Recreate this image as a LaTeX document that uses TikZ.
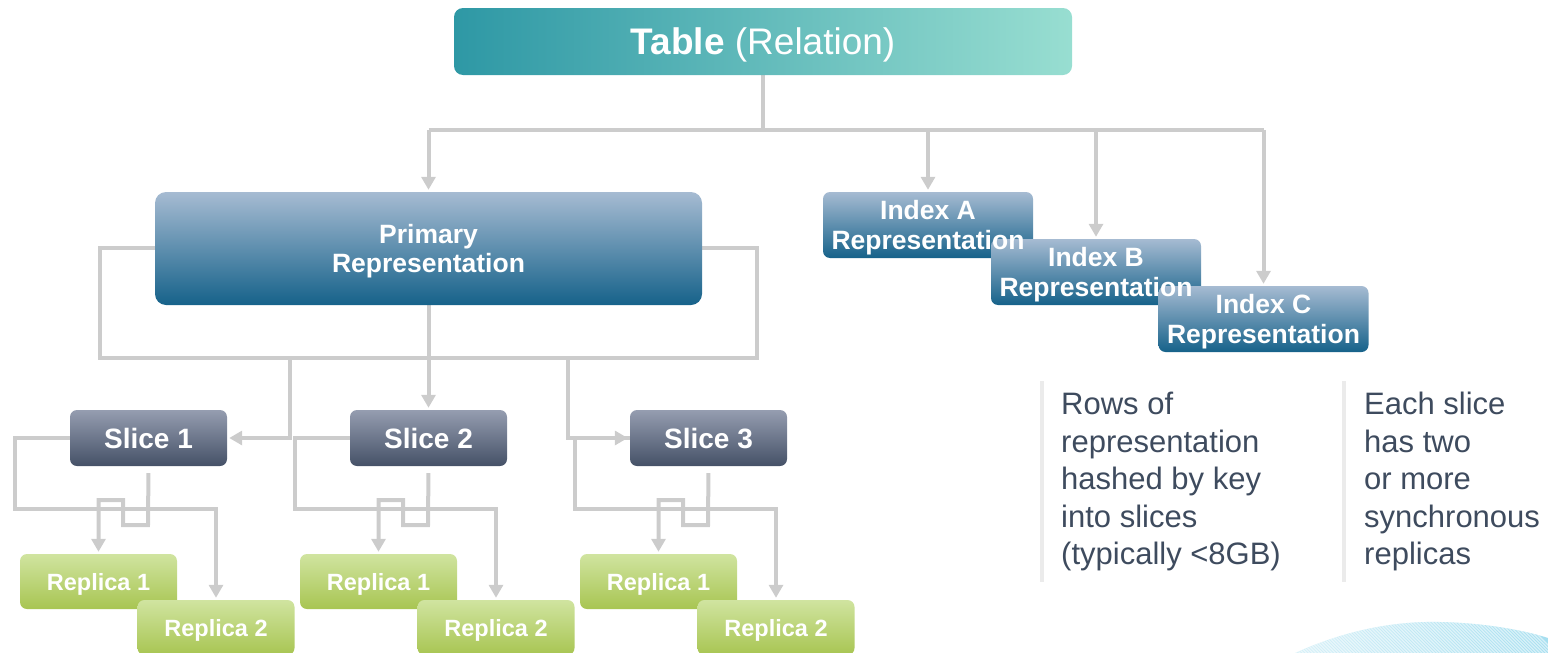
\documentclass[tikz,border=0pt]{standalone}
\usepackage{fontspec}
\setmainfont{Liberation Sans}
\usetikzlibrary{arrows.meta,backgrounds}

\pgfdeclarelayer{foreground}
\pgfsetlayers{background,main,foreground}

\definecolor{linegray}{HTML}{CCCCCC}
\definecolor{tabL}{HTML}{2E98A5}
\definecolor{tabR}{HTML}{98DED1}
\definecolor{repTop}{HTML}{A6BBD2}
\definecolor{repBot}{HTML}{16628A}
\definecolor{slTop}{HTML}{959DB0}
\definecolor{slBot}{HTML}{455167}
\definecolor{rpTop}{HTML}{D0E4A0}
\definecolor{rpBot}{HTML}{A8C552}
\definecolor{notetext}{HTML}{3E4B5E}
\definecolor{sepgray}{HTML}{EBEBEB}
\definecolor{globe}{HTML}{A6DFF0}

\tikzset{
  boxbase/.style={inner sep=0pt, text=white, align=center, text depth=0pt},
  tablebox/.style={boxbase, rounded corners=9pt, minimum width=618pt, minimum height=67pt,
    left color=tabL, right color=tabR, font=\fontsize{37}{40}\selectfont},
  reprbox/.style={boxbase, rounded corners=11pt, top color=repTop, bottom color=repBot,
    font=\bfseries\fontsize{26.5}{29.5}\selectfont},
  indexbox/.style={reprbox, rounded corners=7pt, minimum width=210pt, minimum height=66pt},
  indexlabel/.style={boxbase, font=\bfseries\fontsize{26.5}{29.5}\selectfont},
  slicebox/.style={boxbase, rounded corners=7pt, minimum width=157pt, minimum height=56pt,
    top color=slTop, bottom color=slBot, font=\bfseries\fontsize{28}{32}\selectfont},
  replicabox/.style={boxbase, rounded corners=7pt, minimum width=157pt, minimum height=55pt,
    top color=rpTop, bottom color=rpBot, font=\bfseries\fontsize{23.5}{26}\selectfont},
  wire/.style={draw=linegray, line width=4pt},
  arrowwire/.style={wire, -{Triangle[width=14pt,length=13pt]}, shorten >=2pt},
  note/.style={inner sep=0pt, anchor=north west, align=left, text=notetext,
    font=\fontsize{31}{37.5}\selectfont},
  sepline/.style={draw=sepgray, line width=4pt}
}

\begin{document}
\begin{tikzpicture}[x=1pt,y=-1pt]
\useasboundingbox (0,0) rectangle (1548,653);

% decorative globe edge in the lower right corner, with fine white hatching
\begin{scope}
  \path[clip] (1295,653) .. controls (1350,628) and (1400,621) .. (1440,622)
    .. controls (1490,623) and (1530,632) .. (1548,638) -- (1548,653) -- cycle;
  \shade[left color=globe!45, right color=globe] (1290,615) rectangle (1548,653);
  \foreach \k in {0,...,90}{
    \draw[white, opacity=0.55, line width=1.2pt] (1230+3.2*\k,615) -- ++(40,40);
  }
\end{scope}

% top level
\node[tablebox] (tab) at (763,41.5) {\textbf{Table} (Relation)};

% representations
\node[reprbox, minimum width=547pt, minimum height=113pt] (prim) at (428.5,248.5)
  {Primary\\Representation};
\node[indexbox] (ia) at (928,225) {};
\node[indexbox] (ib) at (1096,272) {};
\node[indexbox] (ic) at (1263.5,319) {};
\begin{pgfonlayer}{foreground}
  % index labels sit above the overlapping boxes
  \node[indexlabel] (ialabel) at (ia) {Index A\\Representation};
  \node[indexlabel] (iblabel) at (ib) {Index B\\Representation};
  \node[indexlabel] (iclabel) at (ic) {Index C\\Representation};
\end{pgfonlayer}

% slices and replicas
\foreach \i/\dx in {1/0,2/280,3/560}{
  \node[slicebox] (s\i) at (148.5+\dx,438) {Slice \i};
  \node[replicabox] (r\i a) at (98.5+\dx,581.5) {Replica 1};
  \node[replicabox] (r\i b) at (216+\dx,627.5) {Replica 2};
}

\begin{pgfonlayer}{background}
  % table to representations
  \draw[wire] (tab.south) -- (763,130) coordinate (bus);
  \draw[wire] (prim.north |- bus) -- (ic.north |- bus);
  \draw[arrowwire] (prim.north |- bus) -- (prim.north);
  \draw[arrowwire] (ia.north |- bus) -- (ia.north);
  \draw[arrowwire] (ib.north |- bus) -- (ib.north);
  \draw[arrowwire] (ic.north |- bus) -- (ic.north);

  % primary representation to slices
  \draw[wire] (prim.west |- 0,248) -- (100,248) -- (100,358) -- (757,358) -- (757,248)
    -- (prim.east |- 0,248);
  \draw[arrowwire] (290,358) |- (s1.east);
  \draw[arrowwire] (prim.south) -- (s2.north);
  \draw[arrowwire] (568,358) |- (s3.west);

  % slices to replicas
  \foreach \i/\dx in {1/0,2/280,3/560}{
    \draw[arrowwire] (s\i.west) -- (15+\dx,438) -- (15+\dx,509) -- (r\i b.north |- 0,509)
      -- (r\i b.north);
    \draw[arrowwire, shorten <=7pt] (s\i.south) -- (148+\dx,525) -- (123+\dx,525)
      -- (123+\dx,500) -- (r\i a.north |- 0,500) -- (r\i a.north);
  }
\end{pgfonlayer}

% notes
\draw[sepline] (1042,381) -- (1042,582);
\draw[sepline] (1344,381) -- (1344,582);
\node[note] (n1) at (1061,392)
  {Rows of\\representation\\hashed by key\\into slices\\(typically <8GB)};
\node[note] (n2) at (1364,392)
  {Each slice\\has two\\or more\\synchronous\\replicas};
\end{tikzpicture}
\end{document}
